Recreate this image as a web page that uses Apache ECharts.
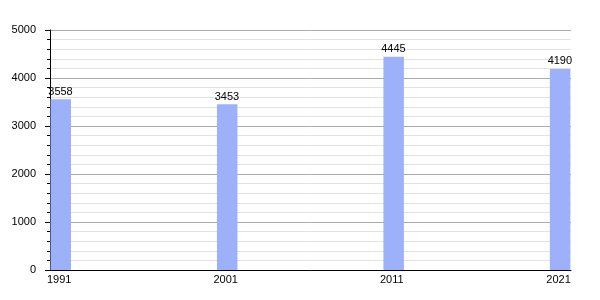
<!DOCTYPE html>
<html><head><meta charset="utf-8">
<script src="https://cdn.jsdelivr.net/npm/echarts@6/dist/echarts.min.js"></script>
<style>html,body{margin:0;padding:0;background:#fff}#c{width:600px;height:300px}</style>
</head><body><div id="c"></div>
<script>
const years = [1991, 2001, 2011, 2021];
const population = [3558, 3453, 4445, 4190];
const yTicks = [0, 1000, 2000, 3000, 4000, 5000];

const chart = echarts.init(document.getElementById('c'), null, {renderer: 'canvas'});
const font = 'Liberation Sans, Arial, sans-serif';
chart.setOption({
  animation: false,
  grid: {left: 50, right: 29, top: 30, bottom: 30},
  xAxis: {
    type: 'value', min: years[0], max: 2022.3,
    axisLine: {show: true, onZero: false, lineStyle: {color: '#000', width: 1}},
    axisTick: {show: false},
    splitLine: {show: false},
    axisLabel: {
      customValues: years, align: 'left', margin: 4, padding: [0, 0, 0, -3],
      color: '#000', fontSize: 11, fontFamily: font,
      formatter: v => String(v)
    }
  },
  yAxis: {
    type: 'value', min: yTicks[0], max: yTicks[yTicks.length - 1], interval: 1000,
    axisLine: {show: true, lineStyle: {color: '#000', width: 1}},
    axisTick: {show: true, length: 5, lineStyle: {color: '#000'}},
    minorTick: {show: true, splitNumber: 5, length: 3, lineStyle: {color: '#000'}},
    splitLine: {show: true, lineStyle: {color: '#aaaaaa', width: 1}},
    minorSplitLine: {show: true, lineStyle: {color: '#e2e2e2', width: 1}},
    axisLabel: {margin: 14, color: '#000', fontSize: 11, fontFamily: font,
      formatter: v => String(v)}
  },
  series: [{
    type: 'custom',
    z: 1,
    data: years.map((y, i) => [y, population[i]]),
    renderItem: function (params, api) {
      const top = api.coord([api.value(0), api.value(1)]);
      const base = api.coord([api.value(0), 0]);
      const w = 21;
      return {
        type: 'group',
        children: [{
          type: 'rect',
          shape: {x: top[0] + 0.5, y: top[1], width: w - 0.5, height: base[1] - top[1]},
          style: {fill: '#9db0fa'}
        }, {
          type: 'text',
          style: {
            text: String(api.value(1)), x: top[0] + w / 2, y: top[1] - 2,
            align: 'center', verticalAlign: 'bottom',
            fill: '#000', font: '11px ' + font
          }
        }]
      };
    }
  }]
});
</script>
</body></html>
